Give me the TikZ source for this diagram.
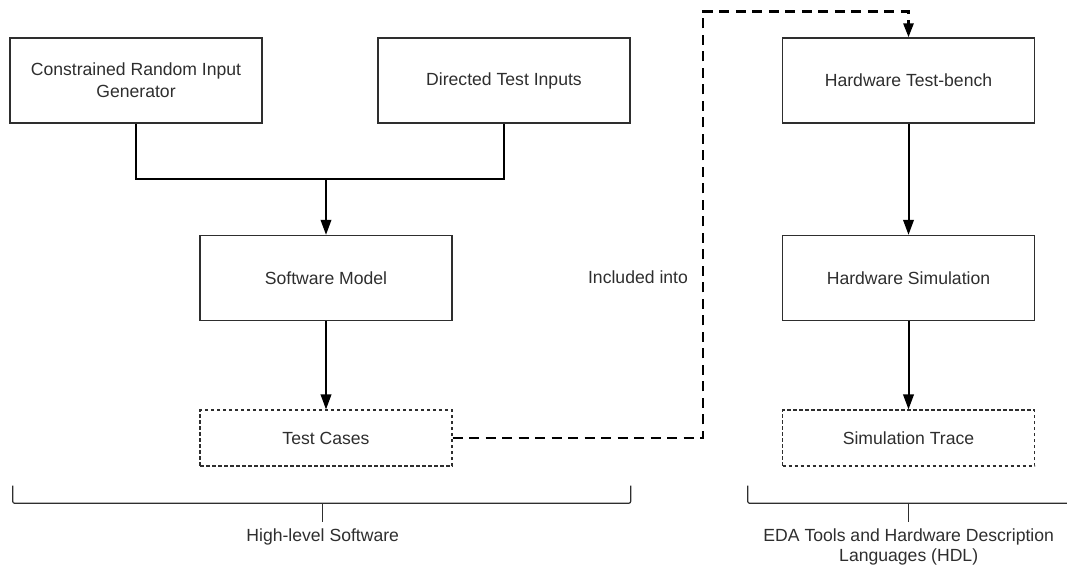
\documentclass[tikz,border=0pt]{standalone}
\usepackage{fontspec}
\setmainfont{Liberation Sans}
\usetikzlibrary{arrows.meta}
\definecolor{ink}{HTML}{2E2E2E}
\tikzset{
  box/.style={draw=ink, line width=1.3pt, minimum width=252pt, minimum height=85pt, inner sep=0pt, text=ink, align=center, font=\fontsize{17.6}{21.6}\selectfont},
  dbox/.style={box, minimum height=56pt, line width=1.1pt, dash pattern=on 3.5pt off 2.5pt},
  lbl/.style={text=ink, align=center, inner sep=0pt, font=\fontsize{17.6}{20}\selectfont},
  conn/.style={draw=black, line width=2pt},
  arr/.style={conn, -{Triangle[length=15pt,width=10.5pt]}},
  dconn/.style={draw=black, line width=2.7pt, dash pattern=on 10pt off 6.5pt, -{Triangle[length=14pt,width=10pt]}},
  brace/.style={draw=ink, line width=1.2pt, rounded corners=2pt}
}
\begin{document}
\begin{tikzpicture}[x=1pt,y=-1pt]
\useasboundingbox (0,0) rectangle (1067,569);
\node[box] (A) at (136,80.5) {Constrained Random Input\\Generator};
\node[box] (B) at (504,80.5) {Directed Test Inputs};
\node[box] (SM) at (326,278) {Software Model};
\node[dbox] (TC) at (326,438) {Test Cases};
\node[box] (HTB) at (908.5,80.5) {Hardware Test-bench};
\node[box] (HS) at (908.5,278) {Hardware Simulation};
\node[dbox] (ST) at (908.5,438) {Simulation Trace};
\node[lbl] (inc) at (638,277) {Included into};
\node[lbl] (hls) at (322.7,537) {High-level Software};
\node[lbl] (eda) at (908.7,547) {EDA Tools and Hardware Description\\Languages (HDL)};
% merge connector
\coordinate (merge) at (326,179);
\draw[conn] (A.south) |- (B.south |- merge) -- (B.south);
\draw[arr] (merge) -- (SM.north);
\draw[arr] (SM.south) -- (TC.north);
\draw[arr] (HTB.south) -- (HS.north);
\draw[arr] (HS.south) -- (ST.north);
% dashed connector
\coordinate (up) at (703,11.7);
\draw[dconn] (TC.east) -| (up) -| (HTB.north);
% brackets
\coordinate (bl1) at (12.7,485.7);
\coordinate (bl2) at (630.7,485.7);
\coordinate (br1) at (747.7,485.7);
\coordinate (tl) at (322.7,521.7);
\coordinate (tr) at (908.7,521.7);
\draw[brace] (bl1) -- (12.7,503.3) -- (630.7,503.3) -- (bl2);
\draw[brace] (tl |- bl2) ++(0,17.6) -- (tl);
\draw[brace] (br1) -- (747.7,503.3) -- (1067,503.3);
\draw[brace] (tr |- br1) ++(0,17.6) -- (tr);
\end{tikzpicture}
\end{document}
